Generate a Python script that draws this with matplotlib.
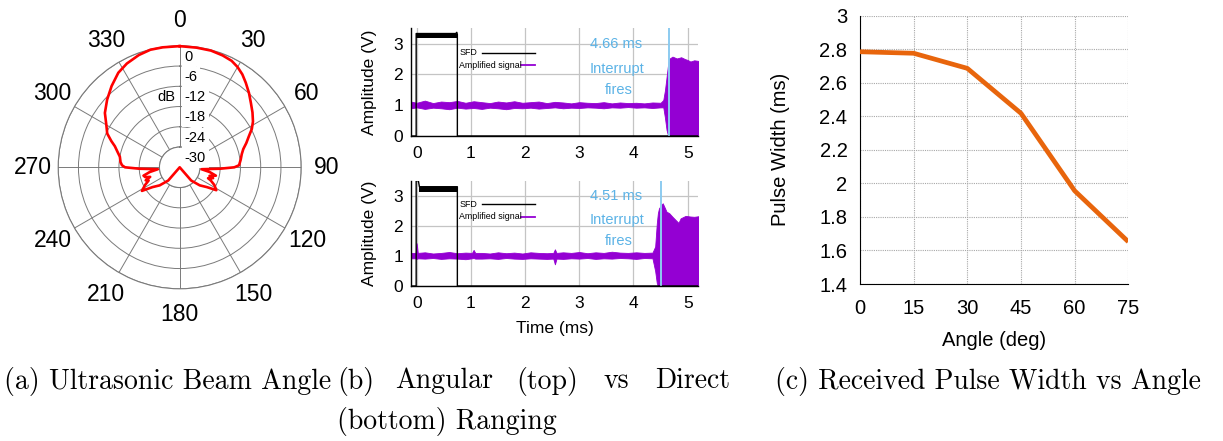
import numpy as np
import matplotlib
matplotlib.use('Agg')
import matplotlib.pyplot as plt

plt.rcParams['font.family'] = ['Liberation Sans', 'DejaVu Sans']

# ---------------- (a) ultrasonic beam pattern ----------------
beam_angle_deg = [0, 8, 15, 21, 26, 30, 34, 38, 43, 48, 53, 58, 62, 66, 70, 74, 78, 83, 88,
                  90, 92, 95, 99, 103, 106, 108, 111, 113, 117, 122, 126, 132, 139, 145,
                  215, 221, 228, 234, 238, 243, 247, 249, 252, 254, 257, 261, 265, 268,
                  270, 272, 275, 280, 284, 288, 291, 295, 300, 306, 313, 320, 327, 333,
                  340, 346, 352, 360]
beam_db = [-0.1, -0.2, -0.2, -0.5, -0.9, -1.7, -2.8, -4.2, -5.9, -7.6, -9.0, -10.4, -11.8,
           -13.6, -15.0, -16.4, -17.2, -17.8, -18.4,
           -19.8, -24.0, -29.5, -27.0, -25.0, -26.8, -25.6, -27.0, -26.0, -24.5, -23.2, -26.0,
           -28.0, -30.8, -36.0,
           -36.0, -30.8, -28.0, -26.0, -22.8, -24.5, -26.0, -25.2, -26.8, -25.4, -25.0,
           -27.0, -29.5, -24.0,
           -19.8, -18.9, -18.4, -18.0, -17.0, -15.8, -14.3, -12.3, -10.9, -8.6, -6.6, -4.6,
           -2.6, -1.5, -0.6, -0.1, -0.1, -0.1]
polar_ticks_deg = [0, 30, 60, 90, 120, 150, 180, 210, 240, 270, 300, 330]
db_rings = [-30, -24, -18, -12, -6, 0]
db_floor = -36

# ---------------- (b) angular (top) vs direct (bottom) ranging ----------------
time_ticks = [0, 1, 2, 3, 4, 5]
amp_ticks = [0, 1, 2, 3]

sfd_top_t = [-0.11, -0.01, -0.01, 0.72, 0.74, 0.75, 0.75, 5.2]
sfd_top_v = [0, 0, 3.33, 3.33, 3.37, 3.3, 0, 0]
sfd_top_band_t = [-0.01, 0.75]
sfd_top_band_lo = [3.2, 3.2]
sfd_top_band_hi = [3.33, 3.33]

sfd_bot_t = [-0.11, -0.01, -0.01, 0.03, 0.05, 0.75, 0.75, 5.2]
sfd_bot_v = [0, 0, 3.5, 3.5, 3.3, 3.3, 0, 0]
sfd_bot_band_t = [0.05, 0.75]
sfd_bot_band_lo = [3.12, 3.12]
sfd_bot_band_hi = [3.3, 3.3]

amp_top_t = [-0.11, 0.0, 0.15, 0.3, 0.45, 0.6, 0.75, 0.9, 1.05, 1.2, 1.35, 1.5, 1.65, 1.8,
             1.95, 2.1, 2.25, 2.4, 2.55, 2.7, 2.85, 3.0, 3.15, 3.3, 3.45, 3.6, 3.75, 3.9,
             4.05, 4.2, 4.35, 4.5,
             4.55, 4.58, 4.61, 4.64, 4.66, 4.72, 4.8, 4.88, 4.95, 5.0, 5.05, 5.12, 5.2]
amp_top_hi = [1.12, 1.08, 1.15, 1.07, 1.12, 1.1, 1.14, 1.08, 1.13, 1.1, 1.07, 1.12, 1.09, 1.13,
              1.08, 1.1, 1.12, 1.07, 1.11, 1.09, 1.06, 1.1, 1.08, 1.07, 1.1, 1.06, 1.09, 1.07,
              1.08, 1.06, 1.09, 1.08,
              1.17, 1.48, 1.91, 2.35, 2.51, 2.58, 2.52, 2.56, 2.5, 2.47, 2.42, 2.46, 2.44]
amp_top_lo = [0.9, 0.93, 0.88, 0.92, 0.9, 0.87, 0.92, 0.89, 0.91, 0.88, 0.92, 0.9, 0.87, 0.91,
              0.9, 0.92, 0.89, 0.91, 0.93, 0.9, 0.92, 0.91, 0.93, 0.92, 0.9, 0.93, 0.92, 0.94,
              0.92, 0.93, 0.91, 0.93,
              0.93, 0.6, 0.2, 0.0, 0.0, 0.0, 0.0, 0.0, 0.0, 0.0, 0.0, 0.0, 0.0]

amp_bot_t = [-0.11, -0.02, 0.0, 0.02, 0.15, 0.3, 0.45, 0.6, 0.75, 0.9, 1.02, 1.05, 1.08, 1.2,
             1.35, 1.5, 1.65, 1.8, 1.95, 2.1, 2.25, 2.4, 2.52, 2.55, 2.58, 2.7, 2.85, 3.0,
             3.15, 3.3, 3.45, 3.6, 3.75, 3.9, 4.05, 4.2, 4.35,
             4.40, 4.43, 4.45, 4.47, 4.51, 4.54, 4.57, 4.61, 4.66, 4.72, 4.78, 4.83, 4.87,
             4.96, 5.05, 5.12, 5.2]
amp_bot_hi = [1.1, 1.1, 1.42, 1.1, 1.12, 1.08, 1.1, 1.13, 1.09, 1.11, 1.1, 1.2, 1.1, 1.1,
              1.08, 1.12, 1.09, 1.11, 1.08, 1.12, 1.1, 1.09, 1.1, 1.22, 1.1, 1.12, 1.1, 1.13,
              1.09, 1.12, 1.1, 1.14, 1.11, 1.1, 1.12, 1.1, 1.11,
              1.31, 2.08, 2.42, 2.58, 2.69, 2.75, 2.63, 2.47, 2.42, 2.30, 2.19, 2.10, 2.25,
              2.33, 2.31, 2.30, 2.32]
amp_bot_lo = [0.92, 0.92, 0.9, 0.92, 0.91, 0.93, 0.9, 0.92, 0.91, 0.89, 0.92, 0.93, 0.91, 0.91,
              0.92, 0.9, 0.93, 0.91, 0.9, 0.92, 0.91, 0.9, 0.91, 0.72, 0.91, 0.9, 0.92, 0.91,
              0.93, 0.9, 0.92, 0.91, 0.93, 0.92, 0.9, 0.93, 0.92,
              0.5, 0.1, 0.0, 0.0, 0.0, 0.0, 0.0, 0.0, 0.0, 0.0, 0.0, 0.0, 0.0,
              0.0, 0.0, 0.0, 0.0]

interrupt_top_ms = 4.66
interrupt_bot_ms = 4.51
legend_labels = ['SFD', 'Amplified signal']

# ---------------- (c) pulse width vs angle ----------------
angle_deg = [0, 15, 30, 45, 60, 75]
pulse_width_ms = [2.785, 2.776, 2.686, 2.418, 1.956, 1.652]
pw_yticks = [1.4, 1.6, 1.8, 2.0, 2.2, 2.4, 2.6, 2.8, 3.0]
pw_yticklabels = ['1.4', '1.6', '1.8', '2', '2.2', '2.4', '2.6', '2.8', '3']

captions = {
    'a': '(a) Ultrasonic Beam Angle',
    'c': '(c) Received Pulse Width vs Angle',
}
caption_b_words = ['(b)', 'Angular', '(top)', 'vs', 'Direct']
caption_b_line2 = '(bottom) Ranging'

# ============================================================
W, H = 1223, 441
fig = plt.figure(figsize=(W / 100, H / 100), dpi=100)

GRAYLINE = '#7a7a7a'
PURPLE = '#9400d3'
SKY = '#5cb3e6'
SKYLINE = '#8ccbf0'

# ---- (a) polar ----
axp = fig.add_axes([58.2 / W, (H - 288.8) / H, 243 / W, 243 / H], projection='polar')
axp.set_theta_zero_location('N')
axp.set_theta_direction(-1)
axp.set_rlim(db_rings[0], db_rings[-1])
axp.set_rorigin(db_floor)
axp.set_thetagrids(polar_ticks_deg, [str(a) for a in polar_ticks_deg], fontsize=16.5)
axp.set_rgrids(db_rings, [''] * len(db_rings))
axp.grid(True, color=GRAYLINE, lw=0.7)
axp.tick_params(axis='x', pad=7.8)
for sp in axp.spines.values():
    sp.set_color(GRAYLINE)
    sp.set_linewidth(0.8)
axp.plot(np.deg2rad(beam_angle_deg), beam_db, color='#ff0000', lw=1.9, clip_on=False,
         zorder=5, solid_joinstyle='round')
for r in db_rings:
    axp.annotate(str(r), xy=(0, r), xytext=(3.5, -7.8), textcoords='offset points',
                 ha='left', va='center', fontsize=10.5, zorder=4,
                 bbox=dict(boxstyle='square,pad=0.2', fc='white', ec='none'))
axp.annotate('dB', xy=(0, -12), xytext=(-3, -7.8), textcoords='offset points',
             ha='right', va='center', fontsize=10.5, zorder=4)

# ---- (b) signals ----
def signal_axes(rect, sfd_t, sfd_v, band_t, band_lo, band_hi, at, ahi, alo, t_int, ms_text, xlabel):
    ax = fig.add_axes(rect)
    ax.set_xlim(-0.111, 5.196)
    ax.set_ylim(0, 3.5)
    ax.set_xticks(time_ticks)
    ax.set_yticks(amp_ticks)
    ax.tick_params(labelsize=12.5, length=0)
    ax.tick_params(axis='x', pad=7.5)
    ax.tick_params(axis='y', pad=5.5)
    ax.grid(True, color='#c4c4c4', lw=0.9)
    ax.set_axisbelow(True)
    for s in ['top', 'right']:
        ax.spines[s].set_visible(False)
    for s in ['left', 'bottom']:
        ax.spines[s].set_linewidth(1.0)
        ax.spines[s].set_zorder(6)
    ax.fill_between(at, alo, ahi, color=PURPLE, lw=0.6, edgecolor=PURPLE, zorder=3)
    ax.fill_between(band_t, band_lo, band_hi, color='black', lw=0, zorder=4)
    ax.plot(sfd_t, sfd_v, color='black', lw=1.0, zorder=4)
    ax.axvline(t_int, color=SKYLINE, lw=1.4, zorder=5)
    ax.text(3.68, 3.0, ms_text, color=SKY, ha='center', va='center', fontsize=10.5)
    ax.text(3.69, 2.18, 'Interrupt', color=SKY, ha='center', va='center', fontsize=10.5)
    ax.text(3.73, 1.5, 'fires', color=SKY, ha='center', va='center', fontsize=10.5)
    ax.set_ylabel('Amplitude (V)', fontsize=12.5, labelpad=12)
    if xlabel:
        ax.set_xlabel('Time (ms)', fontsize=12.5, labelpad=7)
    # key
    ax.text(0.169, 0.775, legend_labels[0], transform=ax.transAxes, fontsize=6.4,
            ha='left', va='center')
    ax.plot([0.247, 0.432], [0.775, 0.775], transform=ax.transAxes, color='black', lw=1.0)
    ax.text(0.169, 0.658, legend_labels[1], transform=ax.transAxes, fontsize=6.4,
            ha='left', va='center')
    ax.plot([0.382, 0.432], [0.658, 0.658], transform=ax.transAxes, color=PURPLE, lw=1.3)
    return ax

signal_axes([410.7 / W, (H - 136) / H, 287.6 / W, 107.7 / H],
            sfd_top_t, sfd_top_v, sfd_top_band_t, sfd_top_band_lo, sfd_top_band_hi,
            amp_top_t, amp_top_hi, amp_top_lo, interrupt_top_ms, '4.66 ms', False)
signal_axes([410.7 / W, (H - 286) / H, 287.6 / W, 105.3 / H],
            sfd_bot_t, sfd_bot_v, sfd_bot_band_t, sfd_bot_band_lo, sfd_bot_band_hi,
            amp_bot_t, amp_bot_hi, amp_bot_lo, interrupt_bot_ms, '4.51 ms', True)

# ---- (c) pulse width ----
axc = fig.add_axes([860 / W, (H - 284) / H, 268.3 / W, 268.3 / H])
axc.plot(angle_deg, pulse_width_ms, color='#e8650c', lw=3.4, solid_capstyle='butt', zorder=3)
axc.set_xlim(0, 75)
axc.set_ylim(1.4, 3.0)
axc.set_xticks(angle_deg)
axc.set_yticks(pw_yticks)
axc.set_yticklabels(pw_yticklabels)
axc.tick_params(labelsize=14.5, length=0)
axc.tick_params(axis='x', pad=11)
axc.tick_params(axis='y', pad=9)
axc.grid(True, color='#a8a8a8', lw=0.8, ls=(0, (1, 1)))
axc.set_axisbelow(True)
for s in ['top', 'right']:
    axc.spines[s].set_visible(False)
axc.set_xlabel('Angle (deg)', fontsize=14.5, labelpad=9)
axc.set_ylabel('Pulse Width (ms)', fontsize=14.5, labelpad=21)

# ---- captions ----
cap_font = dict(family=['cmr10', 'DejaVu Serif'], fontsize=20.0, va='center')
fig.text(4 / W, (H - 381) / H, captions['a'], ha='left', **cap_font)
fig.text(775 / W, (H - 381) / H, captions['c'], ha='left', **cap_font)
word_x = [337, 395, 516, 604, 730]
for wd, x in zip(caption_b_words, word_x):
    fig.text(x / W, (H - 381) / H, wd, ha='right' if wd == 'Direct' else 'left', **cap_font)
fig.text(337 / W, (H - 421) / H, caption_b_line2, ha='left', **cap_font)

fig.savefig('out.png', dpi=100)
